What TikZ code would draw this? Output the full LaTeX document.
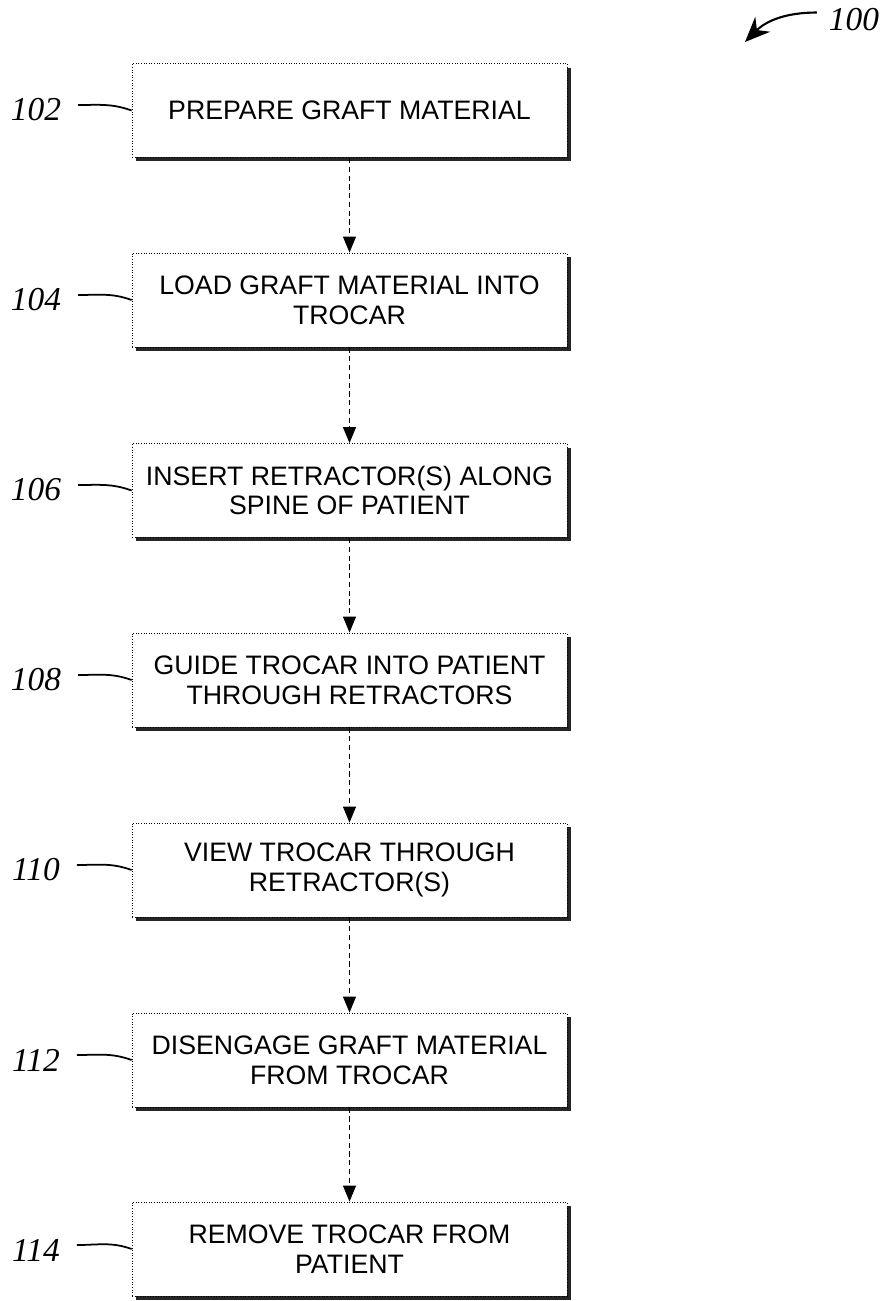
\documentclass[tikz,border=0pt]{standalone}
\usepackage{fontspec}
\setmainfont{Liberation Sans}
\newfontfamily\refnumfont{Liberation Serif}
\usetikzlibrary{arrows.meta,shadows}

\tikzset{
  stepbox/.style={shape=rectangle, draw=black, densely dotted, line width=0.5pt,
    fill=white, minimum width=8.7cm, minimum height=1.88cm, align=center,
    font=\fontsize{15.2}{17}\selectfont,
    drop shadow={shadow xshift=0.08cm, shadow yshift=-0.08cm, fill=black!85, opacity=1}},
  refnum/.style={font=\refnumfont\itshape\fontsize{19}{20}\selectfont, inner sep=1pt},
  flow/.style={densely dashed, line width=0.6pt, -{Triangle[length=0.32cm, width=0.26cm]}},
  leader/.style={line width=1pt}
}

\begin{document}
\begin{tikzpicture}[x=0.02cm, y=-0.02cm]
    \useasboundingbox (0,0) rectangle (886,1301);

    \node[stepbox] (B102) at (349.5, 110.5) {PREPARE GRAFT MATERIAL};
    \node[stepbox] (B104) at (349.5, 300) {LOAD GRAFT MATERIAL INTO\\TROCAR};
    \node[stepbox] (B106) at (349.5, 490.5) {INSERT RETRACTOR(S) ALONG\\SPINE OF PATIENT};
    \node[stepbox] (B108) at (349.5, 680) {GUIDE TROCAR INTO PATIENT\\THROUGH RETRACTORS};
    \node[stepbox] (B110) at (349.5, 870) {VIEW TROCAR THROUGH\\RETRACTOR(S)};
    \node[stepbox] (B112) at (349.5, 1060) {DISENGAGE GRAFT MATERIAL\\FROM TROCAR};
    \node[stepbox] (B114) at (349.5, 1249) {REMOVE TROCAR FROM\\PATIENT};

    \node[refnum] (L102) at (36, 110) {102};
    \node[refnum] (L104) at (36, 300) {104};
    \node[refnum] (L106) at (36, 490) {106};
    \node[refnum] (L108) at (36, 680) {108};
    \node[refnum] (L110) at (36, 870) {110};
    \node[refnum] (L112) at (36, 1060) {112};
    \node[refnum] (L114) at (36, 1250) {114};
    \node[refnum] (L100) at (854, 20) {100};
    \coordinate (A100) at (745, 42);

    \draw[flow] (B102) -- (B104);
    \draw[flow] (B104) -- (B106);
    \draw[flow] (B106) -- (B108);
    \draw[flow] (B108) -- (B110);
    \draw[flow] (B110) -- (B112);
    \draw[flow] (B112) -- (B114);

    \draw[leader] ([xshift=0.3cm, yshift=0.1cm]L102.east) to[out=0, in=160] (B102.west);
    \draw[leader] ([xshift=0.3cm, yshift=0.1cm]L104.east) to[out=0, in=160] (B104.west);
    \draw[leader] ([xshift=0.3cm, yshift=0.1cm]L106.east) to[out=0, in=160] (B106.west);
    \draw[leader] ([xshift=0.3cm, yshift=0.1cm]L108.east) to[out=0, in=160] (B108.west);
    \draw[leader] ([xshift=0.3cm, yshift=0.1cm]L110.east) to[out=0, in=160] (B110.west);
    \draw[leader] ([xshift=0.3cm, yshift=0.1cm]L112.east) to[out=0, in=160] (B112.west);
    \draw[leader] ([xshift=0.3cm, yshift=0.1cm]L114.east) to[out=0, in=160] (B114.west);
    \draw[line width=1.2pt, -{Stealth[length=0.5cm, width=0.42cm]}]
      ([xshift=-0.2cm, yshift=0.15cm]L100.west) to[out=180, in=45] (A100);
\end{tikzpicture}
\end{document}
